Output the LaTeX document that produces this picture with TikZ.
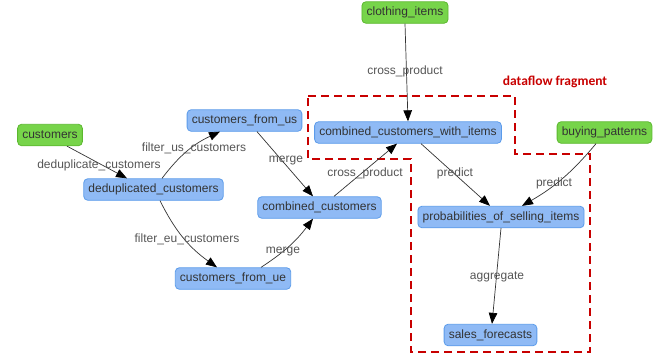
\documentclass[tikz,border=0pt]{standalone}
\usepackage{fontspec}
\setmainfont{Liberation Sans}
\newfontfamily\fragfont{Carlito}
\usetikzlibrary{arrows.meta}
\definecolor{nodeblue}{HTML}{8FBAF5}
\definecolor{borderblue}{HTML}{5B9BEA}
\definecolor{nodegreen}{HTML}{77D44A}
\definecolor{bordergreen}{HTML}{5CB82F}
\definecolor{txtgray}{HTML}{333333}
\definecolor{lblgray}{HTML}{555555}
\definecolor{fragred}{HTML}{C80000}
\tikzset{
  base/.style={rounded corners=4pt, line width=0.8pt, minimum height=21.5pt,
    inner xsep=4.7pt, inner ysep=0pt, text=txtgray, font=\fontsize{12}{14}\selectfont},
  bluebox/.style={base, fill=nodeblue, draw=borderblue},
  greenbox/.style={base, fill=nodegreen, draw=bordergreen},
  conn/.style={draw=txtgray, line width=0.7pt, -{Triangle[length=11pt,width=8.5pt,color=black]}},
  elabel/.style={text=lblgray, font=\fontsize{12}{14}\selectfont, inner sep=0pt},
  frag/.style={draw=fragred, line width=1.8pt, dash pattern=on 8pt off 5pt}
}
\begin{document}
\begin{tikzpicture}[x=1pt,y=-1pt]
\useasboundingbox (0,0) rectangle (660,356);
% dataflow fragment region
\draw[frag] (308,96) -- (515,96) -- (515,154) -- (590,154) -- (590,352) -- (411,352) -- (411,159) -- (308,159) -- cycle;
\node[text=fragred, font=\fragfont\bfseries\fontsize{13.5}{15}\selectfont, inner sep=0pt] (fraglbl) at (555,82) {dataflow fragment};

% nodes
\node[greenbox] (cloth) at (405,12.5) {clothing\_items};
\node[greenbox] (cust) at (50,135) {customers};
\node[greenbox] (buy) at (604.5,132.5) {buying\_patterns};
\node[bluebox] (us) at (244.5,120.5) {customers\_from\_us};
\node[bluebox] (dedup) at (153.5,189.5) {deduplicated\_customers};
\node[bluebox] (ue) at (233,278.5) {customers\_from\_ue};
\node[bluebox] (comb) at (319.5,207.5) {combined\_customers};
\node[bluebox] (cwi) at (408,132.5) {combined\_customers\_with\_items};
\node[bluebox] (prob) at (501,217) {probabilities\_of\_selling\_items};
\node[bluebox] (sales) at (490.5,335) {sales\_forecasts};

% connectors
\draw[conn] ([xshift=17pt]cust.south) -- ([xshift=-26.5pt]dedup.north)
  node[elabel, at={(99,165)}] {deduplicate\_customers};
\draw[conn] ([xshift=8.5pt]dedup.north) to[bend left=14] ([xshift=-24.5pt]us.south);
\node[elabel] (lbus) at (194,148) {filter\_us\_customers};
\draw[conn] ([xshift=6.5pt]dedup.south) to[bend right=14] ([xshift=-16pt]ue.north);
\node[elabel] (lbue) at (187,239) {filter\_eu\_customers};
\draw[conn] ([xshift=12.5pt]us.south) -- ([xshift=-6.5pt]comb.north);
\node[elabel] (lbm1) at (286,161) {merge};
\draw[conn] ([xshift=28pt]ue.north) to[bend right=10] ([xshift=-6.5pt]comb.south);
\node[elabel] (lbm2) at (283,252) {merge};
\draw[conn] ([xshift=14.5pt]comb.north) -- ([xshift=-11pt]cwi.south);
\node[elabel] (lbcp2) at (365,173) {cross\_product};
\draw[conn] (cloth.south) -- ([xshift=0pt]cwi.north);
\node[elabel] (lbcp1) at (405,71) {cross\_product};
\draw[conn] ([xshift=13pt]cwi.south) -- ([xshift=-11pt]prob.north);
\node[elabel] (lbp1) at (455,173) {predict};
\draw[conn] ([xshift=-8.5pt]buy.south) to[bend left=10] ([xshift=21pt]prob.north);
\node[elabel] (lbp2) at (554,183) {predict};
\draw[conn] (prob.south) -- ([xshift=1.5pt]sales.north);
\node[elabel] (lbagg) at (497,277) {aggregate};
\end{tikzpicture}
\end{document}
